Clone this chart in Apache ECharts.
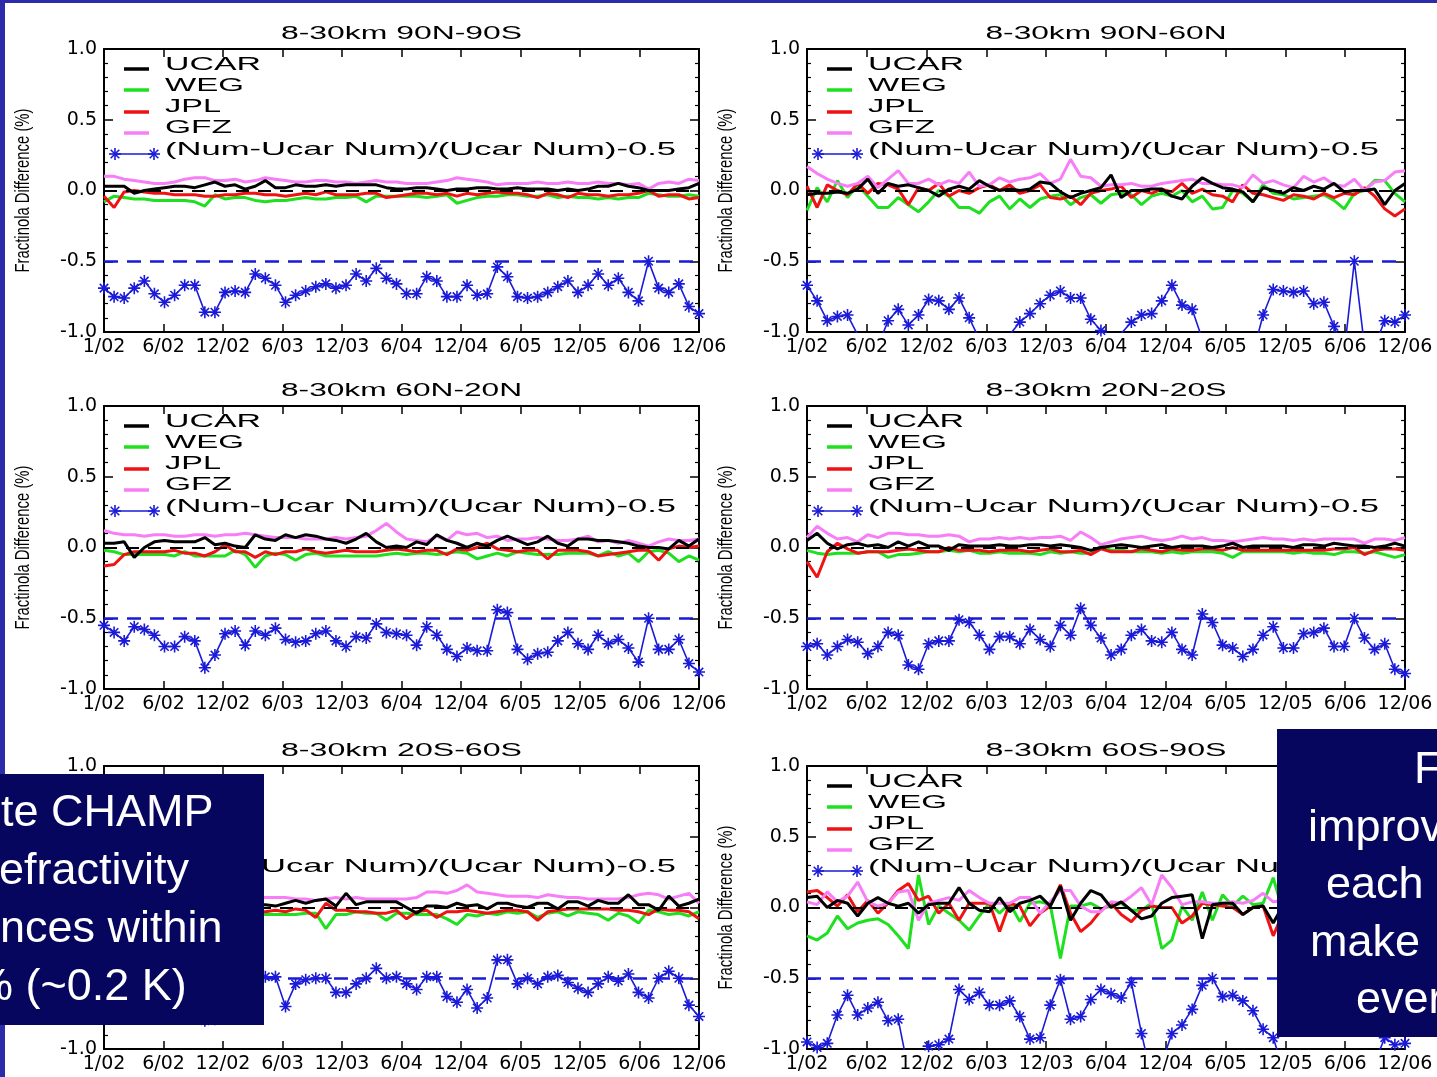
<!DOCTYPE html>
<html>
<head>
<meta charset="utf-8">
<title>CHAMP refractivity differences 8-30km</title>
<script src="https://cdn.jsdelivr.net/npm/echarts@6/dist/echarts.min.js"></script>
<style>
html, body { margin: 0; padding: 0; background: #fff; }
#chart { width: 1437px; height: 1077px; }
</style>
</head>
<body>
<div id="chart"></div>
<script>
// tick labels on the month axis (60 monthly points, 1/02 .. 12/06)
var monthTicks = ['1/02', '6/02', '12/02', '6/03', '12/03', '6/04', '12/04', '6/05', '12/05', '6/06', '12/06'];
var regions = ['8-30km 90N-90S', '8-30km 90N-60N', '8-30km 60N-20N', '8-30km 20N-20S', '8-30km 20S-60S', '8-30km 60S-90S'];
var seriesNames = ['UCAR', 'WEG', 'JPL', 'GFZ', '(Num-Ucar Num)/(Ucar Num)-0.5'];
var yTitle = 'Fractinola Difference (%)';

// one row per panel, in panel order
var ucar = [
    [0.03,0.03,0.03,-0.02,0.00,0.01,0.02,0.03,0.03,0.02, 0.04,0.06,0.03,0.04,0.01,0.03,0.07,0.02,0.02,0.04, 0.03,0.03,0.04,0.03,0.04,0.04,0.04,0.04,0.02,0.01, 0.01,0.02,0.02,0.01,0.00,0.01,0.01,0.02,0.02,0.01, 0.01,0.02,0.01,0.01,0.01,0.00,0.01,0.00,0.01,0.03, 0.03,0.05,0.03,0.02,0.00,0.00,0.00,0.01,0.02,0.05],
    [-0.03,-0.02,-0.02,-0.01,-0.02,0.01,0.08,-0.02,0.05,0.03, 0.04,0.02,0.00,-0.04,0.01,0.03,0.01,0.07,0.03,0.00, 0.01,0.00,0.01,0.06,0.05,-0.01,-0.05,-0.02,0.00,0.02, 0.11,-0.05,0.00,0.00,0.01,0.01,-0.04,-0.06,0.03,0.09, 0.05,0.02,0.01,-0.01,-0.08,0.02,0.00,-0.02,0.02,0.00, 0.03,0.01,0.05,-0.01,0.00,0.00,0.01,-0.10,0.00,0.05],
    [0.03,0.03,0.04,-0.07,0.00,0.04,0.05,0.04,0.04,0.04, 0.07,0.02,0.03,0.01,0.00,0.09,0.06,0.05,0.09,0.07, 0.09,0.08,0.06,0.05,0.03,0.06,0.10,0.04,0.00,0.01, 0.00,0.04,0.02,0.09,0.05,0.03,0.00,0.03,0.01,0.05, 0.08,0.05,0.02,0.04,0.08,0.03,0.01,0.06,0.06,0.05, 0.05,0.04,0.03,0.01,0.00,0.00,-0.01,0.05,0.01,0.06],
    [0.05,0.10,0.03,-0.01,0.02,0.03,0.01,0.02,0.00,0.04, 0.01,0.04,0.01,0.01,-0.02,0.02,0.01,0.01,0.01,0.02, 0.01,0.01,0.02,0.02,0.01,0.02,0.01,0.00,-0.02,0.00, 0.01,0.02,0.01,0.00,0.01,0.02,0.00,0.01,0.01,0.01, 0.00,0.01,0.03,0.00,0.01,0.01,0.01,0.01,0.00,0.02, 0.02,0.01,0.03,0.02,0.01,0.01,0.00,0.01,0.03,0.01],
    [0.02,0.04,0.01,0.03,0.05,0.02,0.03,0.01,0.04,0.02, 0.03,0.05,0.02,0.01,0.03,0.02,0.02,0.01,0.03,0.05, 0.03,0.05,0.06,0.01,0.10,0.02,0.04,0.04,0.04,0.04, 0.00,-0.04,0.01,0.01,0.00,0.03,0.01,0.02,-0.01,0.03, 0.03,0.01,0.00,0.03,0.03,-0.01,0.04,0.04,0.01,0.05, 0.03,0.03,0.09,0.02,0.02,-0.02,0.08,0.01,0.03,0.06],
    [0.07,0.08,0.00,0.05,0.03,-0.06,0.03,0.07,0.03,0.01, 0.03,-0.04,0.02,0.03,0.03,0.14,0.03,-0.02,-0.03,0.07, -0.03,0.03,0.05,0.08,0.01,0.15,-0.09,0.03,0.12,0.09, 0.00,0.04,-0.02,-0.08,-0.06,0.03,0.07,0.08,0.09,-0.22, 0.02,0.03,0.03,-0.05,0.00,0.01,-0.11,0.02,0.00,0.03, 0.01,-0.02,0.02,0.01,0.03,0.00,0.02,0.01,-0.01,0.02]
];
var weg = [
    [-0.08,-0.04,-0.05,-0.06,-0.06,-0.07,-0.07,-0.07,-0.07,-0.08, -0.11,-0.03,-0.06,-0.05,-0.05,-0.07,-0.08,-0.07,-0.07,-0.06, -0.05,-0.06,-0.06,-0.05,-0.05,-0.04,-0.08,-0.04,-0.04,-0.04, -0.04,-0.04,-0.05,-0.04,-0.03,-0.09,-0.07,-0.05,-0.04,-0.04, -0.03,-0.03,-0.04,-0.04,-0.03,-0.05,-0.04,-0.05,-0.05,-0.06, -0.05,-0.06,-0.05,-0.05,-0.02,-0.03,-0.04,-0.04,-0.03,-0.04],
    [-0.14,0.02,-0.08,0.07,-0.05,0.04,-0.04,-0.12,-0.12,-0.05, -0.10,-0.15,-0.08,0.00,-0.04,-0.12,-0.12,-0.16,-0.08,-0.04, -0.13,-0.06,-0.12,-0.06,-0.04,-0.03,-0.10,-0.05,-0.03,-0.09, -0.03,-0.02,-0.03,-0.10,-0.04,-0.02,-0.04,0.00,-0.08,-0.04, -0.13,-0.12,0.00,-0.02,-0.08,0.04,-0.02,-0.03,-0.06,-0.05, -0.04,-0.03,-0.07,-0.13,-0.02,0.00,0.07,0.07,-0.02,-0.08],
    [-0.02,-0.03,-0.05,-0.05,-0.05,-0.05,-0.05,-0.06,-0.03,-0.06, -0.06,-0.06,-0.06,-0.02,-0.05,-0.14,-0.06,-0.04,-0.05,-0.09, -0.05,-0.04,-0.06,-0.06,-0.06,-0.06,-0.06,-0.06,-0.05,-0.04, -0.05,-0.04,-0.04,-0.05,-0.04,-0.03,-0.04,-0.08,-0.06,-0.04, -0.06,-0.03,-0.04,-0.05,-0.05,-0.05,-0.04,-0.04,-0.04,-0.06, -0.03,-0.06,-0.04,-0.10,-0.03,-0.02,-0.04,-0.10,-0.06,-0.09],
    [-0.02,-0.04,-0.05,-0.04,-0.04,-0.04,-0.03,-0.03,-0.07,-0.05, -0.05,-0.04,-0.03,-0.03,-0.02,-0.03,-0.02,-0.04,-0.04,-0.03, -0.04,-0.04,-0.04,-0.05,-0.03,-0.04,-0.03,-0.04,-0.04,0.01, -0.02,-0.02,-0.03,-0.03,-0.03,-0.04,-0.03,-0.04,-0.03,-0.03, -0.03,-0.04,-0.07,-0.03,-0.03,-0.03,-0.03,-0.03,-0.04,-0.03, -0.04,-0.04,-0.05,-0.03,-0.03,-0.04,-0.03,-0.05,-0.07,-0.05],
    [-0.06,-0.05,-0.07,-0.05,-0.04,-0.06,-0.05,-0.08,-0.05,-0.04, -0.06,-0.05,-0.07,-0.05,-0.04,-0.05,-0.05,-0.05,-0.05,-0.05, -0.04,-0.04,-0.15,-0.05,-0.05,-0.03,-0.04,-0.04,-0.09,-0.04, -0.04,-0.05,-0.05,-0.05,-0.08,-0.12,-0.05,-0.06,-0.04,-0.05, -0.03,-0.04,-0.03,-0.07,-0.04,-0.03,-0.06,-0.03,-0.04,-0.05, -0.09,-0.04,-0.06,-0.11,-0.02,-0.03,-0.05,-0.04,-0.06,-0.03],
    [-0.20,-0.23,-0.18,-0.06,-0.15,-0.11,-0.09,-0.08,-0.12,-0.20, -0.29,0.23,-0.12,0.01,-0.04,-0.09,-0.16,-0.06,0.03,-0.04, 0.03,-0.10,0.03,0.04,0.02,-0.36,0.01,0.01,0.03,-0.01, 0.01,0.03,-0.02,-0.02,0.03,-0.29,-0.23,0.01,-0.09,0.11, -0.09,0.09,0.01,0.08,0.02,0.03,0.21,-0.04,0.05,-0.08, 0.02,-0.03,0.06,-0.05,0.01,-0.06,0.03,-0.02,0.04,-0.03]
];
var jpl = [
    [-0.04,-0.12,-0.01,0.00,-0.01,-0.02,-0.02,-0.03,-0.03,-0.03, -0.04,-0.04,-0.03,-0.03,-0.02,-0.02,-0.03,-0.03,-0.04,-0.03, -0.02,-0.03,-0.01,-0.03,-0.03,-0.03,-0.02,-0.02,-0.05,-0.04, -0.03,-0.02,-0.02,-0.03,-0.02,-0.04,-0.02,-0.03,-0.02,-0.01, -0.02,-0.02,-0.03,-0.05,-0.02,-0.03,-0.05,-0.02,-0.03,-0.03, -0.04,-0.03,-0.03,-0.02,0.00,-0.04,-0.03,-0.03,-0.06,-0.05],
    [0.03,-0.12,0.04,0.00,-0.03,0.05,-0.02,0.05,0.04,0.01, -0.10,0.02,0.00,0.05,-0.04,0.00,-0.02,0.02,0.04,0.00, 0.04,-0.02,0.00,0.04,-0.05,-0.06,-0.04,-0.10,-0.02,0.00, 0.01,0.03,-0.05,0.00,-0.02,0.01,-0.01,0.05,-0.02,0.01, -0.03,-0.04,-0.08,0.04,-0.02,-0.03,-0.05,-0.07,-0.03,-0.04, -0.06,-0.02,-0.05,-0.02,-0.03,0.02,-0.04,-0.13,-0.18,-0.13],
    [-0.13,-0.12,-0.05,-0.03,-0.03,-0.03,-0.03,-0.02,-0.04,-0.04, -0.06,-0.03,0.02,-0.03,-0.03,-0.07,-0.03,-0.05,-0.03,-0.03, -0.01,-0.03,-0.04,-0.03,-0.02,-0.03,-0.03,-0.03,-0.02,-0.01, -0.02,-0.03,-0.02,-0.02,-0.05,-0.01,-0.02,0.00,0.03,-0.01, -0.02,-0.03,-0.02,-0.02,-0.08,-0.02,-0.02,-0.02,-0.03,-0.06, -0.05,-0.04,-0.03,-0.02,-0.02,-0.09,-0.01,0.01,0.00,0.01],
    [-0.10,-0.21,-0.03,0.03,-0.01,-0.04,-0.03,-0.03,-0.03,-0.02, -0.01,-0.02,-0.03,-0.03,0.00,-0.02,-0.02,-0.02,-0.03,-0.02, -0.02,-0.02,-0.03,-0.02,-0.01,-0.03,-0.03,-0.02,-0.05,-0.01, -0.03,-0.03,-0.03,-0.01,-0.02,-0.03,-0.01,-0.02,-0.02,-0.01, -0.01,-0.02,0.00,-0.02,-0.02,-0.02,-0.02,-0.02,-0.02,-0.02, -0.02,-0.02,-0.01,-0.01,0.00,-0.05,-0.02,-0.01,-0.01,-0.02],
    [-0.04,-0.03,-0.05,-0.02,-0.03,-0.04,-0.02,-0.03,-0.05,-0.03, -0.02,-0.04,-0.03,-0.02,-0.04,-0.03,-0.03,-0.02,-0.03,-0.01, -0.02,-0.07,0.03,-0.02,-0.02,-0.03,-0.03,-0.04,-0.04,-0.02, -0.08,-0.03,-0.02,-0.07,-0.03,-0.03,-0.02,-0.03,-0.04,-0.03, -0.02,-0.02,-0.03,-0.09,-0.03,-0.02,-0.01,-0.01,-0.01,-0.01, -0.01,-0.02,-0.02,-0.03,-0.05,-0.01,-0.02,-0.02,-0.03,-0.08],
    [0.11,0.12,0.07,0.01,0.09,-0.03,0.05,-0.04,0.03,0.12, 0.17,0.05,0.08,-0.04,0.03,-0.09,0.03,0.03,0.03,-0.17, 0.03,0.01,-0.13,-0.04,0.01,0.16,-0.04,-0.17,-0.11,-0.02, 0.03,-0.05,-0.10,-0.02,0.01,0.00,0.00,-0.11,-0.06,0.03, 0.02,0.01,0.00,-0.05,0.00,0.01,-0.20,-0.03,0.01,-0.02, 0.00,-0.04,-0.01,0.02,-0.03,-0.01,0.00,-0.02,-0.01,-0.03]
];
var gfz = [
    [0.10,0.10,0.08,0.07,0.06,0.05,0.05,0.06,0.08,0.09, 0.09,0.07,0.07,0.08,0.06,0.07,0.09,0.08,0.07,0.06, 0.06,0.07,0.07,0.06,0.06,0.05,0.06,0.07,0.06,0.06, 0.05,0.05,0.05,0.06,0.07,0.09,0.08,0.07,0.06,0.04, 0.05,0.05,0.05,0.06,0.05,0.05,0.06,0.05,0.05,0.06, 0.05,0.05,0.04,0.05,0.01,0.05,0.06,0.05,0.08,0.07],
    [0.17,0.12,0.08,0.05,0.03,0.05,0.10,0.02,0.08,0.14, 0.05,0.05,0.08,0.04,0.07,0.05,0.13,0.03,0.04,0.09, 0.06,0.08,0.09,0.12,0.05,0.08,0.22,0.10,0.09,0.03, 0.04,0.04,0.05,0.03,0.03,0.05,0.06,0.07,0.08,0.05, 0.05,0.04,0.04,0.02,0.11,0.05,0.07,0.04,0.02,0.10, 0.06,0.09,0.04,0.03,0.08,0.00,0.06,0.07,0.13,0.14],
    [0.12,0.10,0.09,0.09,0.08,0.09,0.09,0.08,0.08,0.09, 0.09,0.08,0.09,0.09,0.10,0.09,0.08,0.07,0.07,0.07, 0.06,0.06,0.06,0.07,0.06,0.07,0.08,0.12,0.17,0.11, 0.06,0.05,0.04,0.08,0.05,0.11,0.09,0.10,0.07,0.08, 0.05,0.06,0.06,0.07,0.06,0.05,0.05,0.06,0.08,0.04, 0.05,0.03,0.05,0.03,0.01,0.04,0.06,0.05,0.05,0.06],
    [0.07,0.15,0.10,0.06,0.07,0.04,0.09,0.07,0.10,0.10, 0.09,0.09,0.08,0.08,0.09,0.08,0.04,0.06,0.06,0.07, 0.06,0.07,0.06,0.07,0.07,0.08,0.05,0.11,0.07,0.02, 0.04,0.06,0.07,0.08,0.06,0.05,0.06,0.08,0.06,0.07, 0.05,0.05,0.04,0.05,0.06,0.07,0.06,0.06,0.05,0.06, 0.05,0.06,0.06,0.06,0.06,0.03,0.06,0.06,0.05,0.07],
    [0.08,0.07,0.09,0.06,0.07,0.08,0.06,0.07,0.05,0.06, 0.07,0.08,0.06,0.07,0.06,0.07,0.07,0.07,0.07,0.06, 0.06,0.05,0.06,0.07,0.06,0.07,0.06,0.06,0.06,0.06, 0.06,0.07,0.11,0.11,0.10,0.12,0.16,0.11,0.10,0.09, 0.08,0.08,0.08,0.07,0.09,0.08,0.07,0.07,0.06,0.06, 0.06,0.06,0.07,0.09,0.10,0.09,0.06,0.08,0.10,0.03],
    [0.04,0.02,0.11,0.04,0.08,0.18,0.04,0.01,0.03,0.11, 0.12,-0.09,0.03,0.05,0.07,0.05,0.12,0.07,0.03,0.03, 0.03,0.07,0.07,-0.04,0.04,0.12,0.12,0.01,-0.03,-0.03, 0.04,0.03,0.08,0.14,0.02,0.23,0.14,0.02,0.04,0.04, 0.03,0.03,0.04,0.03,0.05,0.10,0.04,0.05,0.06,0.04, 0.07,0.05,0.06,0.08,0.05,0.04,0.06,0.05,0.07,0.06]
];
var countDiff = [
    [-0.69,-0.75,-0.76,-0.69,-0.64,-0.73,-0.79,-0.74,-0.67,-0.67, -0.86,-0.86,-0.72,-0.71,-0.72,-0.59,-0.62,-0.67,-0.79,-0.74, -0.71,-0.68,-0.66,-0.69,-0.67,-0.59,-0.64,-0.55,-0.62,-0.66, -0.73,-0.73,-0.61,-0.64,-0.75,-0.75,-0.67,-0.74,-0.73,-0.54, -0.61,-0.75,-0.76,-0.75,-0.72,-0.68,-0.64,-0.72,-0.67,-0.59, -0.67,-0.62,-0.72,-0.78,-0.50,-0.69,-0.72,-0.66,-0.82,-0.87],
    [-0.67,-0.78,-0.92,-0.89,-0.88,-1.02,-1.20,-1.10,-0.92,-0.84, -0.95,-0.88,-0.77,-0.78,-0.84,-0.76,-0.90,-1.05,-1.10,-1.10, -1.02,-0.93,-0.87,-0.80,-0.74,-0.71,-0.76,-0.76,-0.91,-0.99, -1.02,-1.01,-0.93,-0.88,-0.87,-0.78,-0.67,-0.81,-0.84,-1.05, -1.15,-1.20,-1.20,-1.15,-1.15,-0.88,-0.70,-0.71,-0.72,-0.71, -0.80,-0.79,-0.96,-1.15,-0.50,-1.10,-1.10,-0.92,-0.93,-0.88],
    [-0.55,-0.60,-0.66,-0.56,-0.58,-0.62,-0.70,-0.70,-0.63,-0.66, -0.85,-0.76,-0.61,-0.59,-0.69,-0.59,-0.62,-0.57,-0.65,-0.67, -0.66,-0.61,-0.59,-0.66,-0.70,-0.63,-0.64,-0.54,-0.60,-0.61, -0.62,-0.69,-0.56,-0.62,-0.72,-0.77,-0.71,-0.73,-0.73,-0.44, -0.46,-0.72,-0.79,-0.75,-0.74,-0.66,-0.60,-0.68,-0.72,-0.62, -0.68,-0.65,-0.71,-0.81,-0.50,-0.72,-0.72,-0.65,-0.82,-0.88],
    [-0.70,-0.68,-0.76,-0.70,-0.65,-0.67,-0.75,-0.70,-0.60,-0.62, -0.83,-0.86,-0.68,-0.66,-0.66,-0.51,-0.53,-0.62,-0.72,-0.63, -0.63,-0.68,-0.58,-0.65,-0.70,-0.55,-0.62,-0.43,-0.55,-0.64, -0.76,-0.72,-0.62,-0.58,-0.66,-0.67,-0.60,-0.72,-0.76,-0.47, -0.53,-0.69,-0.71,-0.77,-0.72,-0.62,-0.56,-0.71,-0.71,-0.61, -0.60,-0.57,-0.70,-0.70,-0.50,-0.64,-0.72,-0.68,-0.86,-0.89],
    [-0.65,-0.62,-0.70,-0.66,-0.60,-0.64,-0.68,-0.62,-0.66,-0.72, -0.80,-0.79,-0.70,-0.64,-0.60,-0.52,-0.49,-0.49,-0.70,-0.54, -0.51,-0.50,-0.50,-0.60,-0.60,-0.54,-0.50,-0.43,-0.50,-0.49, -0.54,-0.58,-0.49,-0.49,-0.63,-0.67,-0.58,-0.71,-0.64,-0.37, -0.37,-0.54,-0.50,-0.54,-0.49,-0.48,-0.53,-0.57,-0.60,-0.54, -0.49,-0.52,-0.47,-0.60,-0.64,-0.50,-0.45,-0.50,-0.69,-0.77],
    [-0.95,-0.99,-0.96,-0.76,-0.62,-0.76,-0.71,-0.67,-0.80,-0.79, -1.15,-1.10,-0.98,-0.97,-0.93,-0.58,-0.65,-0.60,-0.69,-0.69, -0.66,-0.77,-0.93,-0.92,-0.69,-0.51,-0.79,-0.77,-0.65,-0.58, -0.61,-0.64,-0.53,-0.89,-1.20,-1.10,-0.89,-0.83,-0.72,-0.55, -0.50,-0.63,-0.62,-0.66,-0.73,-0.86,-0.92,-1.15,-1.20,-1.20, -1.15,-1.10,-1.15,-1.20,-1.15,-1.10,-1.10,-0.92,-0.97,-0.96]
];

var BLACK = '#000000', GREEN = '#1ee01e', RED = '#f01212', PINK = '#f77ef7', BLUE = '#1a1ad8';
var STAR = 'path://M5,0L5,10M0,5L10,5M1.5,1.5L8.5,8.5M1.5,8.5L8.5,1.5';
var PLOT_FONT = '"Liberation Sans", Arial, sans-serif';

var gridLefts = [104, 807];
var gridWidths = [595, 598];
var gridTops = [49, 406, 766];
var gridHeight = 283;

var measureCtx = document.createElement('canvas').getContext('2d');

// the plot text in the picture is stretched, so fit each string to its measured length
function stretchedText(str, x, y, size, width, align, rotation) {
    var font = size + 'px ' + PLOT_FONT;
    measureCtx.font = font;
    var s = width / measureCtx.measureText(str).width;
    return {
        type: 'text', x: x, y: y, scaleX: s, rotation: rotation || 0, z: 20, silent: true,
        style: { text: str, font: font, fill: '#000', textAlign: align, textVerticalAlign: 'middle' }
    };
}

function legendLine(x1, x2, y, color, width) {
    return { type: 'line', z: 20, silent: true, shape: { x1: x1, y1: y, x2: x2, y2: y }, style: { stroke: color, lineWidth: width } };
}

function legendStar(cx, cy) {
    var r = 6, d = 4.3, out = [];
    var segs = [[0, -r, 0, r], [-r, 0, r, 0], [-d, -d, d, d], [-d, d, d, -d]];
    for (var i = 0; i < segs.length; i++) {
        out.push({ type: 'line', z: 20, silent: true,
            shape: { x1: cx + segs[i][0], y1: cy + segs[i][1], x2: cx + segs[i][2], y2: cy + segs[i][3] },
            style: { stroke: BLUE, lineWidth: 1.6 } });
    }
    return out;
}

function xAxisFor(p, onTop) {
    return {
        type: 'value', gridIndex: p, min: 0, max: 59, interval: 5.9,
        position: onTop ? 'top' : 'bottom',
        axisLine: { show: true, onZero: false, lineStyle: { color: '#000', width: 2 } },
        axisTick: { show: true, inside: true, length: 8, lineStyle: { color: '#000', width: 1.5 } },
        axisLabel: {
            show: !onTop, showMinLabel: true, showMaxLabel: true, margin: 6,
            color: '#000', fontFamily: 'DejaVu Sans', fontSize: 19,
            formatter: function (v) { return monthTicks[Math.round(v / 5.9)]; }
        },
        splitLine: { show: false }
    };
}

function yAxisFor(p, onRight) {
    return {
        type: 'value', gridIndex: p, min: -1, max: 1, interval: 0.5,
        position: onRight ? 'right' : 'left',
        axisLine: { show: true, onZero: false, lineStyle: { color: '#000', width: 2 } },
        axisTick: { show: true, inside: true, length: 9, lineStyle: { color: '#000', width: 1.5 } },
        minorTick: { show: true, splitNumber: 5, length: 4, lineStyle: { color: '#000', width: 1.2 } },
        axisLabel: {
            show: !onRight, margin: 7, color: '#000', fontFamily: 'DejaVu Sans', fontSize: 19,
            formatter: function (v) { return v.toFixed(1); }
        },
        splitLine: { show: false },
        minorSplitLine: { show: false }
    };
}

function toPoints(values) {
    return values.map(function (v, i) { return [i, v]; });
}

function plainSeries(p, name, values, color, z) {
    return {
        type: 'line', name: name, xAxisIndex: 2 * p, yAxisIndex: 2 * p,
        data: toPoints(values), symbol: 'none', silent: true, z: z,
        lineStyle: { color: color, width: 3 }, itemStyle: { color: color }
    };
}

function buildChart() {
    var grids = [], xAxes = [], yAxes = [], series = [], graphics = [];

    for (var p = 0; p < 6; p++) {
        var col = p % 2, row = Math.floor(p / 2);
        var gx = gridLefts[col], gy = gridTops[row], gw = gridWidths[col];
        grids.push({ left: gx, top: gy, width: gw, height: gridHeight, containLabel: false });
        xAxes.push(xAxisFor(p, false), xAxisFor(p, true));
        yAxes.push(yAxisFor(p, false), yAxisFor(p, true));

        series.push(plainSeries(p, 'WEG', weg[p], GREEN, 3));
        series.push(plainSeries(p, 'JPL', jpl[p], RED, 4));
        series.push(plainSeries(p, 'GFZ', gfz[p], PINK, 5));
        var ucarSeries = plainSeries(p, 'UCAR', ucar[p], BLACK, 6);
        ucarSeries.markLine = {
            silent: true, symbol: 'none', label: { show: false },
            lineStyle: { color: BLACK, type: [13, 9], width: 2.2 },
            data: [{ yAxis: 0 }]
        };
        series.push(ucarSeries);
        series.push({
            type: 'line', name: seriesNames[4], xAxisIndex: 2 * p, yAxisIndex: 2 * p,
            data: toPoints(countDiff[p]), silent: true, z: 7,
            symbol: STAR, symbolSize: 12, showSymbol: true,
            lineStyle: { color: BLUE, width: 1.6 },
            itemStyle: { color: BLUE, borderColor: BLUE, borderWidth: 1.6 },
            markLine: {
                silent: true, symbol: 'none', label: { show: false },
                lineStyle: { color: BLUE, type: [14, 9], width: 2.6 },
                data: [{ yAxis: -0.5 }]
            }
        });

        // panel title and rotated y title
        graphics.push(stretchedText(regions[p], gx + gw / 2, gy - 14.5, 18, 241, 'center'));
        graphics.push(stretchedText(yTitle, gx - 81, gy + gridHeight / 2, 20, 164, 'center', Math.PI / 2));

        // legend, drawn by hand so the wide lettering can be matched
        var legendColors = [BLACK, GREEN, RED, PINK];
        var textWidths = [96, 79, 56, 67, 511];
        var textY = [16, 37, 58, 79, 101];
        var markY = [20, 41, 63, 84];
        for (var k = 0; k < 4; k++) {
            graphics.push(legendLine(gx + 20, gx + 45, gy + markY[k], legendColors[k], 3.5));
        }
        graphics.push(legendLine(gx + 11, gx + 50, gy + 105, BLUE, 1.6));
        graphics = graphics.concat(legendStar(gx + 11, gy + 105), legendStar(gx + 50, gy + 105));
        for (var k2 = 0; k2 < 5; k2++) {
            graphics.push(stretchedText(seriesNames[k2], gx + 61, gy + textY[k2], 19, textWidths[k2], 'left'));
        }
    }

    // slide frame and the two text boxes laid over the figure
    var BOX = '#06065f';
    var boxFont = '45px "Liberation Sans", Arial, sans-serif';
    graphics.push({ type: 'rect', z: 100, silent: true, shape: { x: 0, y: 0, width: 1437, height: 3 }, style: { fill: '#2c2caa' } });
    graphics.push({ type: 'rect', z: 100, silent: true, shape: { x: 0, y: 0, width: 5, height: 1077 }, style: { fill: '#2c2caa' } });
    graphics.push({ type: 'rect', z: 100, silent: true, shape: { x: 0, y: 774, width: 264, height: 251 }, style: { fill: BOX } });
    graphics.push({ type: 'rect', z: 100, silent: true, shape: { x: 1277, y: 729, width: 160, height: 308 }, style: { fill: BOX } });

    var leftBoxLines = [['te CHAMP', 1, 814], ['efractivity', -1, 872], ['nces within', 0, 930], ['% (~0.2 K)', -27, 988]];
    var rightBoxLines = [['F', 1414, 771], ['improv', 1308, 829], ['each', 1326, 886], ['make', 1310, 944], ['ever', 1356, 1001]];
    leftBoxLines.concat(rightBoxLines).forEach(function (ln) {
        graphics.push({
            type: 'text', z: 101, silent: true, x: ln[1], y: ln[2],
            style: { text: ln[0], font: boxFont, fill: '#ffffff', textAlign: 'left', textVerticalAlign: 'middle' }
        });
    });

    var chart = echarts.init(document.getElementById('chart'));
    chart.setOption({
        animation: false,
        backgroundColor: '#ffffff',
        grid: grids,
        xAxis: xAxes,
        yAxis: yAxes,
        series: series,
        graphic: { elements: graphics }
    });
}

buildChart();
</script>
</body>
</html>
